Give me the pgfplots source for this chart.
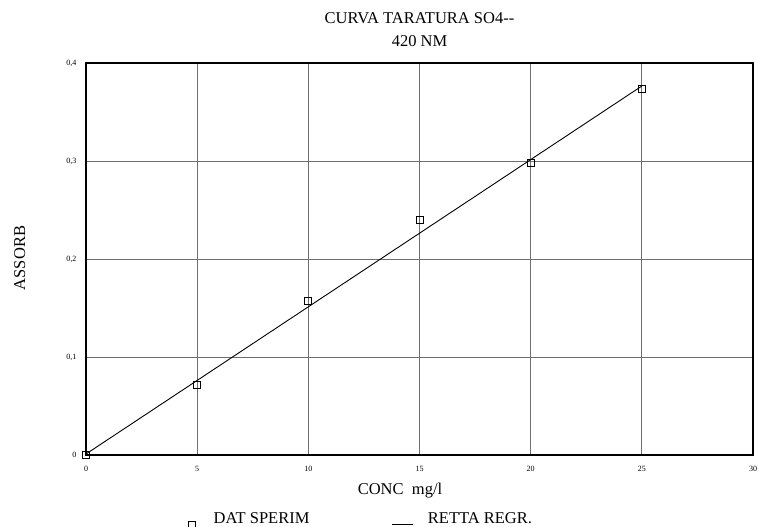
\documentclass[border=0pt]{standalone}
\usepackage{fontspec}
\setmainfont{Liberation Serif}
\usepackage{pgfplots}
\pgfplotsset{compat=1.18}
\definecolor{gridgray}{RGB}{110,110,110}
\begin{document}
\begin{tikzpicture}[x=1pt,y=1pt]
\path[use as bounding box] (0,0) rectangle (758,527);
\begin{axis}[
  name=ax,
  at={(86pt,72pt)}, anchor=south west,
  scale only axis, width=667pt, height=392pt,
  xmin=0, xmax=30, ymin=0, ymax=0.4,
  xtick={0,5,10,15,20,25,30},
  ytick={0,0.1,0.2,0.3,0.4},
  yticklabels={0,{0,1},{0,2},{0,3},{0,4}},
  major tick length=0pt,
  tick label style={font=\fontsize{8}{9}\selectfont},
  xticklabel style={yshift=-8pt},
  yticklabel style={xshift=-6pt},
  /pgf/number format/assume math mode=true,
  grid=major,
  major grid style={draw=gridgray, line width=0.9pt},
  axis line style={line width=1.6pt},
  legend columns=2,
  legend style={draw=none, fill=none, font=\fontsize{16.5}{18}\selectfont,
    inner sep=0pt, nodes={inner sep=0pt},
    at={(axis description cs:0.1529,-0.188)}, anchor=south west,
    /tikz/every odd column/.append style={column sep=0pt},
    /tikz/every even column/.append style={column sep=82pt}},
  legend cell align=left,
]
\addplot[only marks, mark=square, mark size=3.5pt, line width=0.8pt, black,
  legend image code/.code={\path[draw=none] (0pt,0pt) -- (25.5pt,0pt);
    \draw[mark=square, mark size=3.5pt, line width=0.8pt] plot coordinates {(3.5pt,-6pt)};}]
  coordinates {(0,0) (5,0.0711) (10,0.1577) (15,0.2396) (20,0.2977) (25,0.3738)};
\addlegendentry{DAT SPERIM}
\addplot[black, line width=0.9pt, no marks,
  legend image code/.code={\path[draw=none] (0pt,0pt) -- (36pt,0pt);
    \draw[line width=0.9pt] (0pt,-5pt) -- (21pt,-5pt);}]
  coordinates {(0,0.001) (25,0.3765)};
\addlegendentry{RETTA REGR.}
\end{axis}
\node[anchor=base, font=\fontsize{16.5}{18}\selectfont, inner sep=0pt] at (419.5,503) {CURVA TARATURA SO4{-}{-}};
\node[anchor=base, font=\fontsize{16.5}{18}\selectfont, inner sep=0pt] at (419.5,480) {420 NM};
\node[rotate=90, anchor=base, font=\fontsize{16.5}{18}\selectfont, inner sep=0pt] at (25,269) {ASSORB};
\node[anchor=base, font=\fontsize{16.5}{18}\selectfont, inner sep=0pt] at (400,32) {CONC\ \ mg/l};
\end{tikzpicture}
\end{document}
